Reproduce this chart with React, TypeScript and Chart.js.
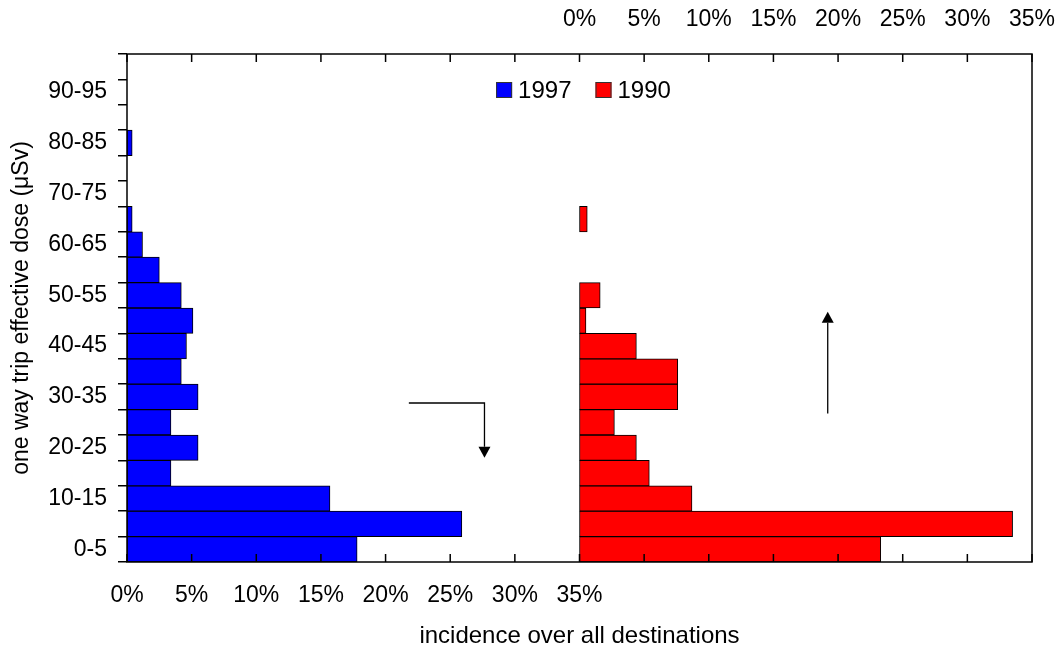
import React, { useEffect, useRef } from 'react';
import { Chart, registerables } from 'chart.js';

Chart.register(...registerables);

// ---- data ----
const categories = [
  '0-5', '5-10', '10-15', '15-20', '20-25', '25-30', '30-35', '35-40', '40-45', '45-50',
  '50-55', '55-60', '60-65', '65-70', '70-75', '75-80', '80-85', '85-90', '90-95', '95-100',
];
const series1997 = [17.8, 25.9, 15.7, 3.4, 5.5, 3.4, 5.5, 4.2, 4.6, 5.1, 4.2, 2.5, 1.2, 0.4, 0, 0, 0.4, 0, 0, 0];
const series1990 = [23.3, 33.5, 8.7, 5.4, 4.4, 2.7, 7.6, 7.6, 4.4, 0.5, 1.6, 0, 0, 0.6, 0, 0, 0, 0, 0, 0];
const seriesNames = ['1997', '1990'];
const seriesColors = ['#0000FF', '#FF0000'];
const tickStep = 5;
const labelledMax = 35;
const xTitle = 'incidence over all destinations';
const yTitle = 'one way trip effective dose (\u03BCSv)';
// annotation arrows, in data units (x value on given axis, y = category index)
const arrowDownPts = [[21.8, 5.76], [27.65, 5.76], [27.65, 3.6]];
const arrowUpPts = [[19.2, 5.35], [19.2, 9.35]];

const FONT = "'Liberation Sans', Arial, sans-serif";
const FS = 23;
const FS_TITLE = 24;

const framePlugin = {
  id: 'frameAndExtras',
  afterDatasetsDraw(chart: any) {
    const { ctx, chartArea: a, scales } = chart;
    ctx.save();
    ctx.strokeStyle = '#000';
    ctx.lineWidth = 1.5;
    ctx.strokeRect(a.left, a.top, a.right - a.left, a.bottom - a.top);
    const tl = 8;
    ctx.beginPath();
    scales.x.ticks.forEach((t: any) => {
      const px = scales.x.getPixelForValue(t.value);
      ctx.moveTo(px, a.bottom);
      ctx.lineTo(px, a.bottom - tl);
    });
    scales.x2.ticks.forEach((t: any) => {
      const px = scales.x2.getPixelForValue(t.value);
      ctx.moveTo(px, a.top);
      ctx.lineTo(px, a.top + tl);
    });
    ctx.stroke();

    // arrows
    const drawArrow = (pts: number[][], axis: string) => {
      const p = pts.map(([xv, yv]) => [scales[axis].getPixelForValue(xv), scales.y.getPixelForValue(yv)]);
      const tip = p[p.length - 1];
      const prev = p[p.length - 2];
      const dx = tip[0] - prev[0];
      const dy = tip[1] - prev[1];
      const len = Math.hypot(dx, dy);
      const ux = dx / len, uy = dy / len;
      const hl = 11, hw = 6;
      ctx.beginPath();
      ctx.lineWidth = 1.3;
      ctx.moveTo(p[0][0], p[0][1]);
      for (let i = 1; i < p.length - 1; i++) ctx.lineTo(p[i][0], p[i][1]);
      ctx.lineTo(tip[0] - ux * hl, tip[1] - uy * hl);
      ctx.stroke();
      ctx.beginPath();
      ctx.fillStyle = '#000';
      ctx.moveTo(tip[0], tip[1]);
      ctx.lineTo(tip[0] - ux * hl - uy * hw, tip[1] - uy * hl + ux * hw);
      ctx.lineTo(tip[0] - ux * hl + uy * hw, tip[1] - uy * hl - ux * hw);
      ctx.closePath();
      ctx.fill();
    };
    drawArrow(arrowDownPts, 'x');
    drawArrow(arrowUpPts, 'x2');

    // legend
    ctx.font = `${FS_TITLE}px ${FONT}`;
    const box = 16, gapBT = 6, gapItem = 24;
    const items = chart.data.datasets.map((d: any) => ({
      label: d.label,
      color: d.backgroundColor,
      w: ctx.measureText(d.label).width,
    }));
    const total = items.reduce((s: number, it: any) => s + box + gapBT + it.w, 0) + gapItem * (items.length - 1);
    let x = (a.left + a.right) / 2 + 4 - total / 2;
    const cy = a.top + 36;
    ctx.textBaseline = 'middle';
    ctx.textAlign = 'left';
    items.forEach((it: any) => {
      ctx.fillStyle = it.color;
      ctx.fillRect(x, cy - box / 2, box, box);
      ctx.lineWidth = 1;
      ctx.strokeStyle = '#333';
      ctx.strokeRect(x + 0.5, cy - box / 2 + 0.5, box - 1, box - 1);
      ctx.fillStyle = '#000';
      ctx.fillText(it.label, x + box + gapBT, cy + 1);
      x += box + gapBT + it.w + gapItem;
    });
    ctx.restore();
  },
};

export default function App() {
  const ref = useRef<HTMLCanvasElement>(null);
  useEffect(() => {
    const font = { family: FONT, size: FS, lineHeight: 1 };
    const titleFont = { family: FONT, size: FS_TITLE, lineHeight: 1 };
    const chart = new Chart(ref.current as HTMLCanvasElement, {
      type: 'bar',
      data: {
        labels: categories,
        datasets: [
          {
            label: seriesNames[0],
            data: series1997,
            xAxisID: 'x',
            yAxisID: 'y',
            backgroundColor: seriesColors[0],
            borderColor: '#000',
            borderWidth: 1,
            borderSkipped: false,
            barPercentage: 1,
            categoryPercentage: 1,
            grouped: false,
          } as any,
          {
            label: seriesNames[1],
            data: series1990,
            xAxisID: 'x2',
            yAxisID: 'y',
            backgroundColor: seriesColors[1],
            borderColor: '#000',
            borderWidth: 1,
            borderSkipped: false,
            barPercentage: 1,
            categoryPercentage: 1,
            grouped: false,
          } as any,
        ],
      },
      options: {
        indexAxis: 'y',
        animation: false,
        responsive: false,
        devicePixelRatio: 1,
        layout: { padding: { left: 0, right: 29, top: 0, bottom: 0 } },
        plugins: { legend: { display: false }, tooltip: { enabled: false } },
        scales: {
          x: {
            type: 'linear',
            position: 'bottom',
            min: 0,
            max: labelledMax * 2,
            grid: { display: false, drawTicks: false },
            border: { display: false },
            ticks: {
              stepSize: tickStep,
              autoSkip: false,
              maxRotation: 0,
              padding: 22,
              color: '#000',
              font,
              callback: (v: any) => (Number(v) <= labelledMax ? `${v}%` : ''),
            },
            title: { display: true, text: xTitle, color: '#000', font: titleFont, padding: { top: 0, bottom: 2 } },
            afterFit: (s: any) => {
              s.height = 88;
              s.paddingLeft = 0;
              s.paddingRight = 0;
            },
          },
          x2: {
            type: 'linear',
            position: 'top',
            min: -labelledMax,
            max: labelledMax,
            grid: { display: false, drawTicks: false },
            border: { display: false },
            ticks: {
              stepSize: tickStep,
              autoSkip: false,
              maxRotation: 0,
              padding: 23,
              color: '#000',
              font,
              callback: (v: any) => (Number(v) >= 0 ? `${v}%` : ''),
            },
            afterFit: (s: any) => {
              s.height = 54;
              s.paddingLeft = 0;
              s.paddingRight = 0;
            },
          },
          y: {
            type: 'category',
            reverse: true,
            offset: true,
            grid: { display: true, drawOnChartArea: false, drawTicks: true, tickLength: 9, color: '#000', lineWidth: 1.5, offset: true },
            border: { display: false },
            ticks: {
              autoSkip: false,
              padding: 11,
              color: '#000',
              font,
              callback: (_v: any, i: number) => (i % 2 === 0 ? categories[i] : ''),
            },
            title: { display: true, text: yTitle, color: '#000', font, padding: { top: 10, bottom: 0 } },
            afterFit: (s: any) => {
              s.width = 127;
              s.paddingTop = 0;
              s.paddingBottom = 0;
            },
          },
        },
      } as any,
      plugins: [framePlugin],
    });
    return () => chart.destroy();
  }, []);
  return (
    <canvas
      ref={ref}
      width={1061}
      height={650}
      style={{ position: 'fixed', left: 0, top: 0, width: '1061px', height: '650px' }}
    />
  );
}
